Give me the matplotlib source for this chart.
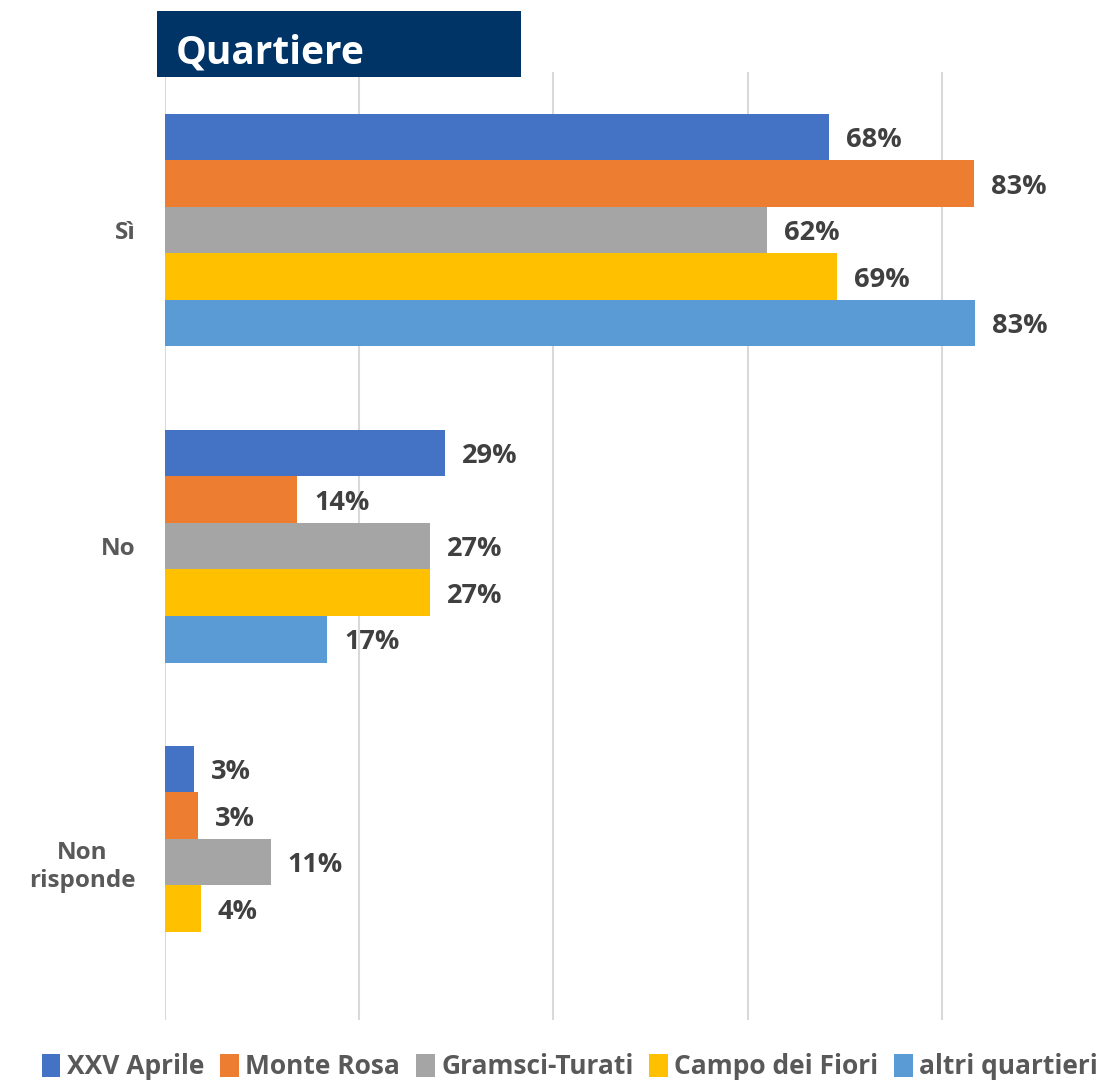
import numpy as np
import matplotlib.pyplot as plt
from matplotlib.patches import Rectangle

# dati
categorie = ['Sì', 'No', 'Non\nrisponde']
serie = ['XXV Aprile', 'Monte Rosa', 'Gramsci-Turati', 'Campo dei Fiori', 'altri quartieri']
xxv_aprile = [0.684, 0.288, 0.030]
monte_rosa = [0.833, 0.136, 0.034]
gramsci_turati = [0.620, 0.273, 0.109]
campo_fiori = [0.692, 0.273, 0.037]
altri_quartieri = [0.834, 0.167, np.nan]
colori = ['#4472C4', '#ED7D31', '#A5A5A5', '#FFC000', '#5B9BD5']

valori = [xxv_aprile, monte_rosa, gramsci_turati, campo_fiori, altri_quartieri]

plt.rcParams['font.family'] = ['Open Sans', 'DejaVu Sans']

fig = plt.figure(figsize=(11.07, 10.9), dpi=100)
ax = fig.add_axes([0.149, 0.064, 0.7896, 0.87])

n = len(serie)
alt = 0.737 / n
y_cat = np.arange(len(categorie))
for i, (nome, v, c) in enumerate(zip(serie, valori, colori)):
    y = y_cat - 0.737 / 2 + alt * (i + 0.5)
    v = np.array(v, dtype=float)
    ok = ~np.isnan(v)
    ax.barh(y[ok], v[ok], height=alt, color=c, label=nome, zorder=3)
    for yy, vv in zip(y[ok], v[ok]):
        ax.text(vv + 0.0175, yy + 0.01, f'{vv*100:.0f}%', va='center', ha='left',
                fontsize=19.5, fontweight='bold', color='#404040')

ax.set_xlim(0, 0.9)
ax.set_ylim(2.5, -0.5)
ax.set_xticks([0, 0.2, 0.4, 0.6, 0.8])
ax.set_xticklabels([])
ax.tick_params(axis='x', length=0)
ax.tick_params(axis='y', length=0, pad=21)
ax.set_yticks(y_cat)
ax.set_yticklabels(categorie, fontsize=17.5, fontweight='bold', color='#595959',
                   multialignment='center')
ax.grid(axis='x', color='#d9d9d9', linewidth=1.5, zorder=0)
for s in ax.spines.values():
    s.set_visible(False)

# riquadro del titolo
fig.patches.append(Rectangle((0.1418, 0.9294), 0.3288, 0.0606, transform=fig.transFigure,
                             facecolor='#003366', edgecolor='none', zorder=5))
fig.text(0.159, 0.951, 'Quartiere', color='white', fontsize=28, fontweight='bold',
         va='center', ha='left', zorder=6)

leg = fig.legend(loc='lower center', bbox_to_anchor=(0.515, -0.013), ncol=5, frameon=False,
                 handlelength=0.7, handleheight=1.0, handletextpad=0.25, columnspacing=0.6,
                 prop={'weight': 'bold', 'size': 19})
for t in leg.get_texts():
    t.set_color('#595959')

plt.savefig('out.png', dpi=100)
